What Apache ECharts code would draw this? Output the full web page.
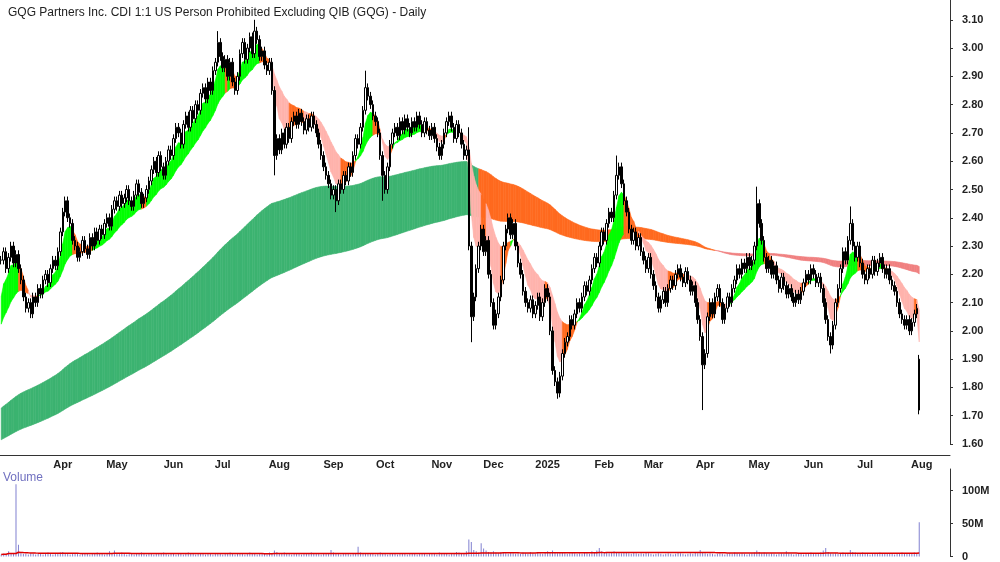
<!DOCTYPE html>
<html><head><meta charset="utf-8">
<script src="https://cdn.jsdelivr.net/npm/echarts@6/dist/echarts.min.js"></script>
<style>html,body{margin:0;background:#fff}#c{width:1000px;height:562px}</style>
</head><body><div id="c"></div>
<script>
const closes=[
2.25,2.28,2.22,2.26,2.30,2.24,2.27,2.22,2.18,2.12,
2.08,2.10,2.06,2.12,2.10,2.15,2.13,2.18,2.20,2.17,
2.22,2.25,2.23,2.28,2.35,2.42,2.46,2.40,2.38,2.32,
2.30,2.26,2.28,2.32,2.29,2.27,2.33,2.30,2.35,2.32,
2.36,2.34,2.38,2.40,2.37,2.43,2.46,2.44,2.48,2.45,
2.47,2.50,2.46,2.44,2.48,2.52,2.49,2.45,2.47,2.50,
2.53,2.57,2.60,2.56,2.62,2.58,2.55,2.60,2.64,2.62,
2.68,2.72,2.70,2.66,2.73,2.76,2.72,2.78,2.75,2.80,
2.78,2.84,2.86,2.82,2.88,2.85,2.92,2.95,3.02,2.97,
2.93,2.96,2.90,2.95,2.88,2.85,2.90,2.98,3.02,2.96,
3.00,3.04,2.98,3.06,3.03,2.97,2.99,2.94,2.92,2.95,
2.85,2.62,2.68,2.64,2.70,2.66,2.72,2.68,2.74,2.76,
2.73,2.77,2.74,2.71,2.75,2.72,2.76,2.73,2.70,2.66,
2.62,2.58,2.55,2.52,2.48,2.50,2.46,2.52,2.50,2.55,
2.53,2.58,2.56,2.62,2.68,2.66,2.72,2.78,2.86,2.83,
2.80,2.76,2.74,2.70,2.62,2.55,2.50,2.58,2.66,2.70,
2.72,2.69,2.74,2.71,2.75,2.72,2.70,2.74,2.72,2.76,
2.73,2.70,2.74,2.71,2.69,2.72,2.68,2.65,2.62,2.66,
2.70,2.74,2.76,2.72,2.68,2.73,2.70,2.66,2.62,2.64,
2.30,2.05,2.12,2.22,2.30,2.36,2.28,2.32,2.20,2.10,
2.02,2.06,2.12,2.18,2.30,2.36,2.40,2.34,2.38,2.30,
2.24,2.20,2.14,2.10,2.08,2.11,2.06,2.09,2.12,2.05,
2.10,2.15,2.12,2.00,1.86,1.82,1.78,1.84,1.92,1.96,
1.98,2.04,2.02,2.06,2.10,2.08,2.12,2.16,2.14,2.18,
2.22,2.26,2.24,2.30,2.35,2.32,2.38,2.42,2.40,2.48,
2.55,2.58,2.52,2.46,2.42,2.36,2.32,2.35,2.30,2.33,
2.28,2.25,2.22,2.26,2.20,2.16,2.12,2.08,2.11,2.14,
2.10,2.15,2.18,2.16,2.20,2.22,2.19,2.17,2.21,2.18,
2.14,2.16,2.10,2.04,1.98,1.88,1.92,2.05,2.10,2.06,
2.12,2.15,2.10,2.04,2.08,2.12,2.10,2.15,2.18,2.22,
2.20,2.24,2.22,2.26,2.23,2.25,2.30,2.45,2.38,2.32,
2.26,2.22,2.25,2.20,2.23,2.18,2.15,2.19,2.16,2.13,
2.15,2.12,2.10,2.13,2.11,2.14,2.17,2.20,2.18,2.22,
2.20,2.17,2.19,2.15,2.10,2.04,1.98,1.95,2.02,2.10,
2.15,2.22,2.28,2.25,2.32,2.38,2.30,2.26,2.30,2.24,
2.20,2.18,2.22,2.20,2.25,2.21,2.24,2.26,2.22,2.20,
2.22,2.18,2.16,2.14,2.10,2.06,2.04,2.02,2.04,2.00,
2.03,2.06,2.08,1.72];
const openOverrides={373:1.90};
const lowOverrides={191:1.96,226:1.76,285:1.72,111:2.55,155:2.46,136:2.42,337:1.92};
const highOverrides={103:3.10,88:3.06,148:2.92,250:2.62,307:2.51,345:2.44,190:2.72};
const volumes=[
3,4,3,8,5,4,110,18,5,4,
4,3,5,4,3,4,5,3,4,6,
4,3,5,4,6,7,5,4,3,4,
5,4,3,4,5,4,3,5,4,6,
4,5,3,4,8,5,9,4,5,6,
4,3,5,4,3,4,5,6,4,3,
4,5,3,4,5,4,6,4,3,5,
4,3,4,5,3,4,6,5,4,3,
4,5,4,3,5,4,3,4,5,4,
3,4,5,6,4,3,4,5,4,3,
4,6,5,4,3,4,5,4,3,6,
5,9,7,5,4,6,5,4,3,4,
5,4,3,4,5,4,6,4,5,4,
3,4,5,4,10,6,5,4,3,4,
5,4,3,4,5,15,6,4,5,4,
4,5,3,4,6,5,4,3,4,5,
4,3,4,5,4,3,4,5,4,3,
4,5,4,3,4,5,4,3,6,4,
5,4,3,4,5,7,6,4,5,8,
26,22,10,8,6,20,12,9,7,6,
8,6,5,7,6,5,4,6,5,4,
5,4,6,5,4,7,5,4,6,5,
4,6,8,7,9,6,5,7,6,5,
4,5,6,5,4,5,4,6,5,4,
8,7,9,13,8,6,7,5,6,8,
7,6,5,6,7,5,4,6,5,4,
5,4,6,5,4,3,4,5,4,3,
4,5,4,3,4,6,5,4,3,4,
5,4,6,5,10,6,5,4,5,4,
3,4,5,4,3,4,5,4,6,5,
4,5,4,3,4,5,6,9,7,5,
6,5,4,5,4,3,4,5,4,8,
5,4,3,4,5,4,3,5,4,6,
4,5,4,6,9,13,7,5,4,5,
4,5,6,5,4,10,7,6,5,4,
6,5,4,3,4,5,4,6,5,4,
4,5,4,3,4,5,6,5,4,5,
4,6,5,52];
const priceTicks=[1.6,3.1];
const volTicks=[0,50,100];
const monthNames=['2025','Feb','Mar','Apr','May','Jun','Jul','Aug','Sep','Oct','Nov','Dec'];

const N=closes.length, TOTAL=386;
const dates=[]; let d=new Date(Date.UTC(2024,1,26));
while(dates.length<TOTAL){const w=d.getUTCDay(); if(w>0&&w<6) dates.push(d.toISOString().slice(0,10)); d=new Date(d.getTime()+86400000);}
const ohlc=closes.map((c,i)=>{const o=openOverrides[i]!=null?openOverrides[i]:(i?closes[i-1]:c);
 const lo=lowOverrides[i]!=null?lowOverrides[i]:Math.min(o,c)-0.015;
 const hi=highOverrides[i]!=null?highOverrides[i]:Math.max(o,c)+0.015; return [o,c,lo,hi];});
function ema(arr,p,seed){const a=2/(p+1);let e=seed;return arr.map(v=>(e=e+a*(v-e)));}
const sf=ema(closes,6,2.07), ss=ema(closes,20,2.0);
const lf=ema(closes,150,1.72), ls=ema(closes,260,1.61);
function bandData(f,s,kind,lag){const out=[];for(let i=1;i<N;i++){const g=f[i]-s[i], up=f[i]>=f[Math.max(0,i-lag)];let c;
 if(kind==='s'){c=g>=0?(up?'#00ff00':'#ff6a1f'):(up?'#ff6a1f':'#ffb3ad');}
 else{c=g>=0?(up?'#3cb371':'#ff6a1f'):(up?'#ff6a1f':'#f08080');}
 out.push({value:[i,f[i-1],f[i],s[i-1],s[i]],itemStyle:{color:c}});}return out;}
function renderBand(params,api){const i=api.value(0);
 const p=[api.coord([i-1,api.value(1)]),api.coord([i,api.value(2)]),api.coord([i,api.value(4)]),api.coord([i-1,api.value(3)])];
 return {type:'polygon',shape:{points:p},style:{fill:api.visual('color'),stroke:api.visual('color'),lineWidth:0.6}};}
const volMA=volumes.map((v,i)=>{const s=volumes.slice(Math.max(0,i-99),i+1).filter(x=>x<60);return +(s.reduce((a,b)=>a+b,0)/Math.max(1,s.length)).toFixed(2);});
function isMonthStart(idx){return idx>10&&idx<TOTAL&&dates[idx].slice(5,7)!==dates[idx-1].slice(5,7);}
const font='Liberation Sans';
const chart=echarts.init(document.getElementById('c'));
chart.setOption({animation:false,backgroundColor:'#fff',
 title:{text:'GQG Partners Inc. CDI 1:1 US Person Prohibited Excluding QIB (GQG) - Daily',left:3,top:2,textStyle:{fontSize:12,fontWeight:'normal',color:'#222',fontFamily:font}},
 graphic:[{type:'text',left:3,top:472,style:{text:'Volume',fill:'#7070c0',fontSize:12,fontFamily:font}}],
 grid:[{left:0,right:50,top:0,height:444},
       {left:0,right:50,top:469,height:89}],
 xAxis:[{type:'category',gridIndex:0,data:dates,boundaryGap:true,offset:11,
   axisLine:{lineStyle:{color:'#333'}},axisTick:{interval:(i)=>isMonthStart(i),length:4,inside:true,lineStyle:{color:'#333'}},
   axisLabel:{interval:(i)=>isMonthStart(i),formatter:v=>monthNames[(+v.slice(5,7))-1],fontSize:11,fontWeight:'bold',color:'#222',fontFamily:font,margin:4}},
  {type:'category',gridIndex:1,data:dates,boundaryGap:true,axisLine:{show:false},axisTick:{show:false},axisLabel:{show:false}}],
 yAxis:[{type:'value',gridIndex:0,position:'right',min:priceTicks[0],max:3.17,interval:0.1,
   axisLine:{show:true,lineStyle:{color:'#333'}},axisTick:{show:true,length:3},splitLine:{show:false},
   axisLabel:{showMaxLabel:false,formatter:v=>v.toFixed(2),fontSize:11,fontWeight:'bold',color:'#222',fontFamily:font,margin:12}},
  {type:'value',gridIndex:1,position:'right',min:volTicks[0],max:133,interval:50,
   axisLine:{show:true,lineStyle:{color:'#333'}},axisTick:{show:true,length:3},splitLine:{show:false},
   axisLabel:{showMaxLabel:false,formatter:v=>v===0?'0':v+'M',fontSize:11,fontWeight:'bold',color:'#222',fontFamily:font,margin:12}}],
 series:[
  {type:'custom',xAxisIndex:0,yAxisIndex:0,renderItem:renderBand,data:bandData(lf,ls,'l',25),z:1},
  {type:'custom',xAxisIndex:0,yAxisIndex:0,renderItem:renderBand,data:bandData(sf,ss,'s',3),z:2},
  {type:'candlestick',xAxisIndex:0,yAxisIndex:0,data:ohlc,barWidth:2,z:3,
   itemStyle:{color:'#fff',color0:'#000',borderColor:'#000',borderColor0:'#000',borderWidth:1}},
  {type:'bar',xAxisIndex:1,yAxisIndex:1,data:volumes,barWidth:1,itemStyle:{color:'#8080d0'}},
  {type:'line',xAxisIndex:1,yAxisIndex:1,data:volMA,showSymbol:false,lineStyle:{color:'#e00000',width:1.5},z:5}
 ]});
</script></body></html>
